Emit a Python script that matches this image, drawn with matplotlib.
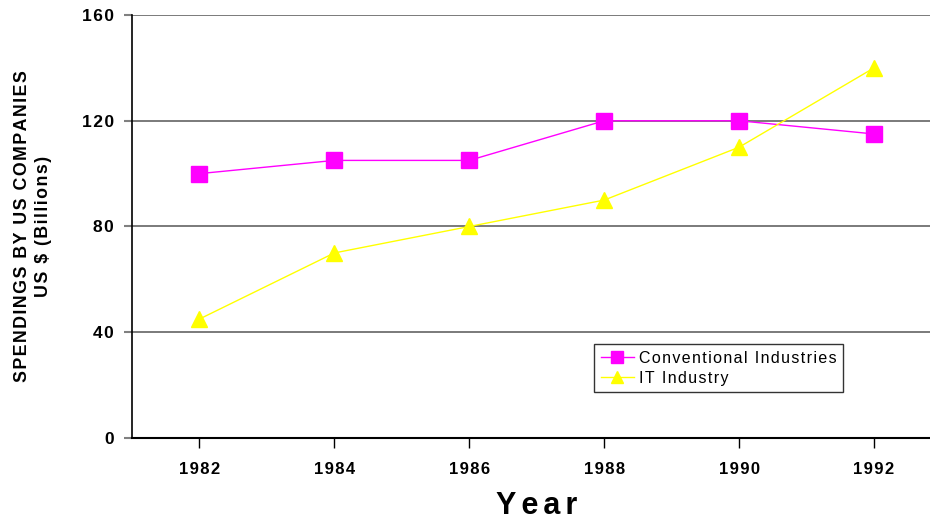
import matplotlib
matplotlib.use("Agg")
import matplotlib.pyplot as plt

years = [1982, 1984, 1986, 1988, 1990, 1992]
conventional = [100, 105, 105, 120, 120, 115]
it_industry = [45, 70, 80, 90, 110, 140]
yticks = [0, 40, 80, 120, 160]

plt.rcParams['font.family'] = ['Liberation Sans', 'DejaVu Sans']

HS = '\u200a'
def sp(s, sep=HS):
    return sep.join(s)

fig = plt.figure(figsize=(9.3, 5.22), dpi=100)
ax = fig.add_axes([132/930, 84/522, 809.5/930, 423/522])

ax.plot(years, conventional, color='#FF00FF', lw=1, marker='s', markersize=11,
        markerfacecolor='#FF00FF', markeredgecolor='#FF00FF',
        label=sp('Conventional Industries'), zorder=3)
ax.plot(years, it_industry, color='#FFFF00', lw=1, marker='^', markersize=12,
        markerfacecolor='#FFFF00', markeredgecolor='#FFFF00',
        label=sp('IT Industry'), zorder=3)

ax.set_xlim(1981, 1993)
ax.set_ylim(0, 160)
ax.set_yticks(yticks)
ax.set_xticks(years)
ax.set_xticklabels([sp(str(y)) for y in years], fontsize=12, fontweight='bold')
ax.set_yticklabels([sp(str(v)) for v in yticks], fontsize=12.5, fontweight='bold')
ax.tick_params(axis='x', direction='out', length=7, width=1, color='black', pad=10)
ax.tick_params(axis='y', direction='out', length=6, width=1.5, color='#808080', pad=7)

for y in yticks[1:]:
    ax.axhline(y, color='#707070', lw=1.3, zorder=1)

for s in ['top', 'right']:
    ax.spines[s].set_visible(False)
ax.spines['left'].set_color('black')
ax.spines['bottom'].set_color('black')
ax.spines['left'].set_linewidth(1.2)
ax.spines['bottom'].set_linewidth(1.5)

ax.set_xlabel(sp('Year', HS * 2), fontsize=22, fontweight='bold')
ax.xaxis.set_label_coords((537-132)/809.5, -0.125)
ax.set_ylabel(sp('SPENDINGS BY US COMPANIES') + '\n' + sp('US $ (Billions)'),
              fontsize=12.8, fontweight='bold', linespacing=1.3)
ax.yaxis.set_label_coords((52-132)/809.5, 0.5)

leg = ax.legend(loc='lower left', bbox_to_anchor=(0.571, 0.109), fontsize=11.5, frameon=True,
                fancybox=False, handlelength=2.1, handletextpad=0.3, borderpad=0.4,
                labelspacing=0.3, borderaxespad=0)
leg.get_frame().set_edgecolor('black')
leg.get_frame().set_linewidth(1)
for h in leg.legend_handles:
    h.set_markersize(9)

fig.savefig('out.png', dpi=100)
